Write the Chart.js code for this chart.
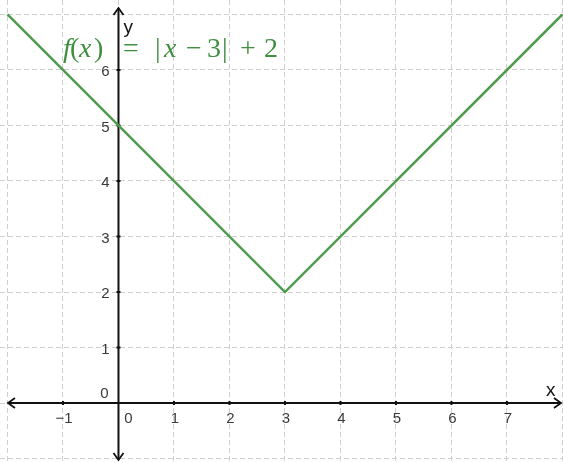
<!DOCTYPE html>
<html>
<head>
<meta charset="utf-8">
<script src="https://cdn.jsdelivr.net/npm/chart.js@4"></script>
<style>
  body { margin: 0; background: #fff; }
  canvas { display: block; }
</style>
</head>
<body>
<canvas id="canvas" width="563" height="463"></canvas>
<script>
// f(x) = |x - 3| + 2
var xValues = [-2, 3, 8];
var yValues = [7, 2, 7];
var xTickLabels = [-1, 0, 1, 2, 3, 4, 5, 6, 7];
var yTickLabels = [0, 1, 2, 3, 4, 5, 6];

var points = xValues.map(function (x, i) { return { x: x, y: yValues[i] }; });

var axesPlugin = {
    id: 'axes',
    beforeDatasetsDraw: function (chart) {
        var ctx = chart.ctx;
        var xs = chart.scales.x, ys = chart.scales.y;
        var area = chart.chartArea;
        var ox = xs.getPixelForValue(0), oy = ys.getPixelForValue(0);
        ctx.save();
        ctx.strokeStyle = '#111';
        ctx.lineWidth = 2;
        ctx.beginPath();
        ctx.moveTo(area.left + 8, oy); ctx.lineTo(area.right - 2, oy);
        ctx.moveTo(ox, area.top + 8); ctx.lineTo(ox, area.bottom - 3);
        ctx.stroke();
        // arrows
        ctx.lineWidth = 1.8;
        ctx.beginPath();
        ctx.moveTo(area.left + 15, oy - 5); ctx.lineTo(area.left + 8, oy); ctx.lineTo(area.left + 15, oy + 5);
        ctx.moveTo(area.right - 9, oy - 5); ctx.lineTo(area.right - 2, oy); ctx.lineTo(area.right - 9, oy + 5);
        ctx.moveTo(ox - 5, area.top + 15); ctx.lineTo(ox, area.top + 8); ctx.lineTo(ox + 5, area.top + 15);
        ctx.moveTo(ox - 5, area.bottom - 10); ctx.lineTo(ox, area.bottom - 3); ctx.lineTo(ox + 5, area.bottom - 10);
        ctx.stroke();
        // tick marks
        ctx.lineWidth = 2;
        ctx.beginPath();
        xTickLabels.forEach(function (v) {
            if (v === 0) return;
            var px = xs.getPixelForValue(v);
            ctx.moveTo(px, oy - 2); ctx.lineTo(px, oy + 2);
        });
        yTickLabels.forEach(function (v) {
            if (v === 0) return;
            var py = ys.getPixelForValue(v);
            ctx.moveTo(ox - 2, py); ctx.lineTo(ox + 2, py);
        });
        ctx.stroke();
        // tick labels
        ctx.fillStyle = '#3a3a3a';
        ctx.font = '15px "Liberation Sans", Arial, sans-serif';
        ctx.textBaseline = 'middle';
        ctx.textAlign = 'center';
        xTickLabels.forEach(function (v) {
            var px = xs.getPixelForValue(v) + (v === 0 ? 10 : 1);
            ctx.fillText(v < 0 ? '\u2212' + (-v) : String(v), px, oy + 16);
        });
        ctx.textAlign = 'right';
        yTickLabels.forEach(function (v) {
            var py = ys.getPixelForValue(v);
            if (v === 0) { ctx.fillText('0', ox - 10, py - 9); return; }
            ctx.fillText(String(v), ox - 9, py + 2);
        });
        // axis names
        ctx.fillStyle = '#111';
        ctx.font = '19px "Liberation Sans", Arial, sans-serif';
        ctx.textAlign = 'left';
        ctx.fillText('y', ox + 5, area.top + 28);
        ctx.fillText('x', area.right - 17, oy - 12);
        ctx.restore();
    },
    afterDraw: function (chart) {
        var ctx = chart.ctx;
        ctx.save();
        ctx.fillStyle = '#3f8f3f';
        ctx.textBaseline = 'alphabetic';
        ctx.textAlign = 'left';
        var italic = 'italic 28px "Liberation Serif", "DejaVu Serif", serif';
        var upright = '28px "Liberation Serif", "DejaVu Serif", serif';
        // formula glyphs with their left edges
        var parts = [
            ['f', italic, 63], ['(', upright, 70], ['x', italic, 79], [')', upright, 94],
            ['=', upright, 123], ['|', upright, 155], ['x', italic, 164], ['\u2212', upright, 186],
            ['3', upright, 207], ['|', upright, 222], ['+', upright, 240], ['2', upright, 264]
        ];
        parts.forEach(function (p) {
            ctx.font = p[1];
            ctx.fillText(p[0], p[2], 57);
        });
        ctx.restore();
    }
};

var canvasElement = document.getElementById('canvas');
var config = {
    type: 'scatter',
    data: {
        datasets: [{
            label: 'f(x) = |x - 3| + 2',
            data: points,
            showLine: true,
            borderColor: '#4c9c4c',
            borderWidth: 2.5,
            pointRadius: 0,
            fill: false
        }]
    },
    options: {
        responsive: false,
        animation: false,
        layout: { padding: 0 },
        plugins: { legend: { display: false }, tooltip: { enabled: false } },
        scales: {
            x: {
                type: 'linear',
                min: -2.135,
                max: 8.01,
                afterBuildTicks: function (s) { s.ticks = [-2, -1, 0, 1, 2, 3, 4, 5, 6, 7, 8].map(function (v) { return { value: v }; }); },
                ticks: { display: false },
                grid: { color: '#cfcfcf', lineWidth: 1, drawTicks: false },
                border: { display: false, dash: [5, 3] }
            },
            y: {
                type: 'linear',
                min: -1.08,
                max: 7.26,
                afterBuildTicks: function (s) { s.ticks = [-1, 0, 1, 2, 3, 4, 5, 6, 7].map(function (v) { return { value: v }; }); },
                ticks: { display: false },
                grid: { color: '#cfcfcf', lineWidth: 1, drawTicks: false },
                border: { display: false, dash: [5, 3] }
            }
        }
    },
    plugins: [axesPlugin]
};

var chart = new Chart(canvasElement, config);
</script>
</body>
</html>
